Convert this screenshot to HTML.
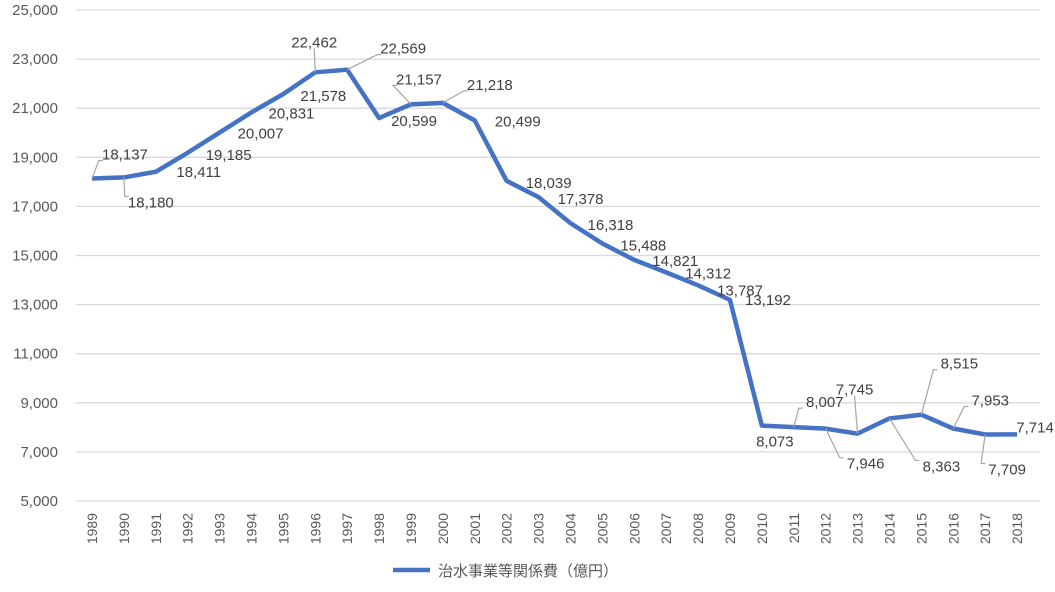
<!DOCTYPE html>
<html><head><meta charset="utf-8"><style>
body{margin:0;background:#fff;}
svg{font-family:"Liberation Sans","Noto Sans CJK JP",sans-serif;}
</style></head><body>
<svg id="c" width="1055" height="587"></svg>
<script>
const years=[1989,1990,1991,1992,1993,1994,1995,1996,1997,1998,1999,2000,2001,2002,2003,2004,2005,2006,2007,2008,2009,2010,2011,2012,2013,2014,2015,2016,2017,2018];
const values=[18137,18180,18411,19185,20007,20831,21578,22462,22569,20599,21157,21218,20499,18039,17378,16318,15488,14821,14312,13787,13192,8073,8007,7946,7745,8363,8515,7953,7709,7714];
const yTicks=[5000,7000,9000,11000,13000,15000,17000,19000,21000,23000,25000];
// label offsets (dx,dy) relative to point, and whether leader line
const offs=[[33,-24,1],[27,25,1],[43,0,0],[41,2,0],[41,1,0],[40,1,0],[40,2,0],[-1,-30,1],[56,-21,1],[35,3,0],[8,-25,1],[47,-18,1],[43,1,0],[42,2,0],[42,2,0],[40,2,0],[41,2,0],[41,1,0],[42,1,0],[42,5,0],[38,0,0],[13,16,0],[31,-25,1],[40,35,1],[-3,-44,1],[52,48,1],[38,-51,1],[37,-28,1],[22,35,1],[18,-7,0]];
const svg=document.getElementById('c');const NS='http://www.w3.org/2000/svg';
const L=76,R=1033,T=10,B=501;
const x=i=>L+(i+0.5)*(R-L)/years.length;
const y=v=>B-(v-5000)/(25000-5000)*(B-T);
function mk(t,a,p){const e=document.createElementNS(NS,t);for(const k in a)e.setAttribute(k,a[k]);(p||svg).appendChild(e);return e;}
yTicks.forEach(v=>{
const g=mk('line',{x1:L,x2:1040,y1:y(v),y2:y(v),stroke:'#d9d9d9','stroke-width':1.3});


const t=mk('text',{x:58,y:y(v)+5,'text-anchor':'end','font-size':15,fill:'#595959'});t.textContent=v.toLocaleString('en-US');


});
years.forEach((yr,i)=>{
const t=mk('text',{transform:`translate(${x(i)+5},${513}) rotate(-90)`,'text-anchor':'end','font-size':14,fill:'#595959'});t.textContent=yr;


});
const p=mk('polyline',{points:values.map((v,i)=>x(i)+','+y(v)).join(' '),fill:'none',stroke:'#4472c4','stroke-width':4.5,'stroke-linejoin':'round'});


values.forEach((v,i)=>{
const [dx,dy,ld]=offs[i];const px=x(i),py=y(v);const lx=px+dx,ly=py+dy;
if(ld){const l=mk('polyline',{points:`${px},${py} ${lx+(dx>0?-26:0)},${ly+(dy>0?-6:6)} ${lx+(dx>0?-22:0)},${ly+(dy>0?-6:6)}`,fill:'none',stroke:'#a6a6a6','stroke-width':1.2});

}
const t=mk('text',{x:lx,y:ly+5,'text-anchor':'middle','font-size':15,fill:'#404040'});t.textContent=v.toLocaleString('en-US');


});
const ll=mk('line',{x1:393,x2:430,y1:570,y2:570,stroke:'#4472c4','stroke-width':4.5});


const lt=mk('text',{x:438,y:576,'font-size':15,fill:'#595959'});lt.textContent='治水事業等関係費（億円）';


</script></body></html>
